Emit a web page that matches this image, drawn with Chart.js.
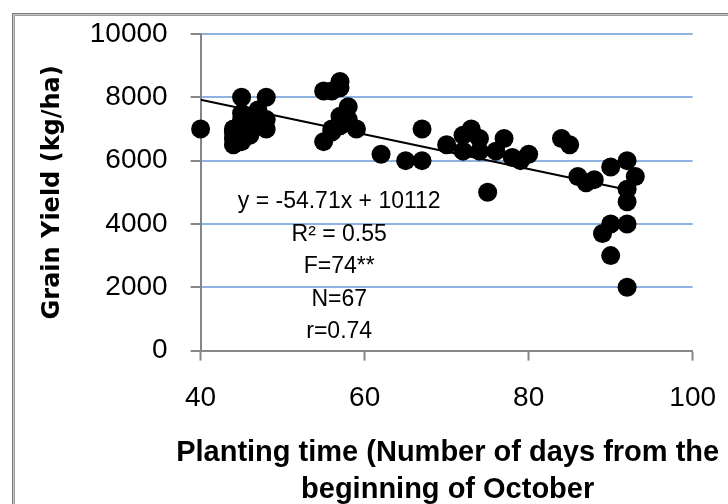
<!DOCTYPE html>
<html><head><meta charset="utf-8">
<script src="https://cdn.jsdelivr.net/npm/chart.js@4.4.1/dist/chart.umd.min.js"></script>
<style>html,body{margin:0;padding:0;background:#fff;}canvas{display:block;}</style>
</head><body>
<canvas id="c" width="728" height="504"></canvas>
<script>
// ---- data ----
const plantingDays = [
  40,
  44,44,44,44,45,45,45,45,45,45,46,46,46,46,46,47,47,47,48,48,48,
  55,56,57,57,58,57,58,57,59,56,55,56,57,
  62,65,67,67,
  70,72,72,73,73,74,74,75,76,77,78,79,80,
  84,85,86,87,88,90,92,93,92,92,92,90,89,90,92
];
const grainYield = [
  7000,
  6500,6900,7000,6700,8000,7500,7300,7000,6800,6600,7200,7000,6800,7400,6900,7600,7300,7100,8000,7300,7000,
  8200,8200,8500,8300,7700,7400,7300,7100,7000,7000,6600,6900,7200,
  6200,6000,6000,7000,
  6500,6800,6300,7000,6900,6700,6300,5000,6300,6700,6100,6000,6200,
  6700,6500,5500,5300,5400,5800,6000,5500,5100,4700,4000,4000,3700,3000,2000
];
const xTickValues = [40, 60, 80, 100];
const yTickValues = [0, 2000, 4000, 6000, 8000, 10000];
const trendSlope = -54.71;
const trendIntercept = 10112;
const trendRange = [40, 93];
const statLines = ["y = -54.71x + 10112", "R\u00B2 = 0.55", "F=74**", "N=67", "r=0.74"];
const xTitle = ["Planting time (Number of days from the", "beginning of October"];
const yTitle = "Grain Yield (kg/ha)";

// ---- derived ----
const points = plantingDays.map((d, i) => ({x: d, y: grainYield[i]}));
const trendPoints = trendRange.map(d => ({x: d, y: trendSlope * d + trendIntercept}));

const GRID = '#8fb3de';
const AXIS = '#868686';
const SANS = "'Liberation Sans', Arial, sans-serif";

const frame = {
  id: 'frame',
  beforeDraw(chart) {
    const ctx = chart.ctx;
    ctx.save();
    ctx.fillStyle = '#fff';
    ctx.fillRect(0, 0, chart.width, chart.height);
    ctx.lineWidth = 1;
    ctx.strokeStyle = '#7a7a7a';
    ctx.strokeRect(12.5, 13.5, 800, 600);
    ctx.strokeStyle = '#c8c8c8';
    ctx.strokeRect(13.5, 14.5, 800, 600);
    ctx.strokeStyle = '#9a9a9a';
    ctx.strokeRect(14.5, 15.5, 800, 600);
    ctx.restore();
  }
};

const texts = {
  id: 'texts',
  afterDatasetsDraw(chart) {
    const ctx = chart.ctx;
    const xs = chart.scales.x, ys = chart.scales.y;
    ctx.save();
    ctx.fillStyle = '#000';
    // regression statistics
    ctx.font = "23px " + SANS;
    ctx.textAlign = 'center';
    ctx.textBaseline = 'middle';
    const cx = xs.getPixelForValue(56.9);
    const y0 = ys.getPixelForValue(4700);
    statLines.forEach((t, i) => ctx.fillText(t, cx, y0 + i * 32.5));
    // x axis title (two lines, not squeezed to the plot width)
    ctx.font = "bold 29px " + SANS;
    ctx.textBaseline = 'alphabetic';
    const tx = (chart.chartArea.left + chart.chartArea.right) / 2 + 1;
    xTitle.forEach((t, i) => ctx.fillText(t, tx, 461 + i * 36.5));
    ctx.restore();
  }
};

new Chart(document.getElementById('c'), {
  type: 'scatter',
  data: {
    datasets: [
      {
        type: 'scatter',
        data: points,
        backgroundColor: '#000',
        borderColor: '#000',
        borderWidth: 0,
        pointRadius: 9.5,
        pointHoverRadius: 9.5,
        clip: false,
        order: 0
      },
      {
        type: 'line',
        data: trendPoints,
        borderColor: '#000',
        borderWidth: 2,
        pointRadius: 0,
        fill: false,
        order: 1
      }
    ]
  },
  options: {
    responsive: false,
    animation: false,
    events: [],
    layout: {padding: {left: 20, top: 34, right: 35.3, bottom: 0}},
    plugins: {legend: {display: false}, tooltip: {enabled: false}},
    scales: {
      x: {
        type: 'linear',
        min: 40, max: 100,
        afterBuildTicks: s => { s.ticks = xTickValues.map(v => ({value: v})); },
        afterFit: s => { s.height = 504 - 350.6; s.paddingLeft = 0; s.paddingRight = 0; },
        grid: {drawOnChartArea: false, drawTicks: true, tickLength: 10, tickColor: AXIS, tickWidth: 2},
        border: {display: true, color: AXIS, width: 2},
        ticks: {color: '#000', font: {family: SANS, size: 28}, padding: 21, maxRotation: 0, autoSkip: false, callback: v => String(v)},
        title: {display: false}
      },
      y: {
        type: 'linear',
        min: 0, max: 10000,
        afterBuildTicks: s => { s.ticks = yTickValues.map(v => ({value: v})); },
        afterFit: s => { s.width = 200.6 - 20; s.paddingTop = 0; s.paddingBottom = 0; },
        grid: {color: GRID, lineWidth: 2, drawTicks: true, tickLength: 10, tickColor: AXIS, tickWidth: 2},
        border: {display: true, color: AXIS, width: 2},
        ticks: {color: '#000', font: {family: SANS, size: 28}, padding: 23, autoSkip: false, callback: v => String(v)},
        title: {display: true, text: yTitle, color: '#000', font: {family: "'DejaVu Sans', Verdana, sans-serif", size: 24, weight: 'bold', lineHeight: 1.2}, padding: {top: 18, bottom: 0}}
      }
    }
  },
  plugins: [frame, texts]
});
</script>
</body></html>
